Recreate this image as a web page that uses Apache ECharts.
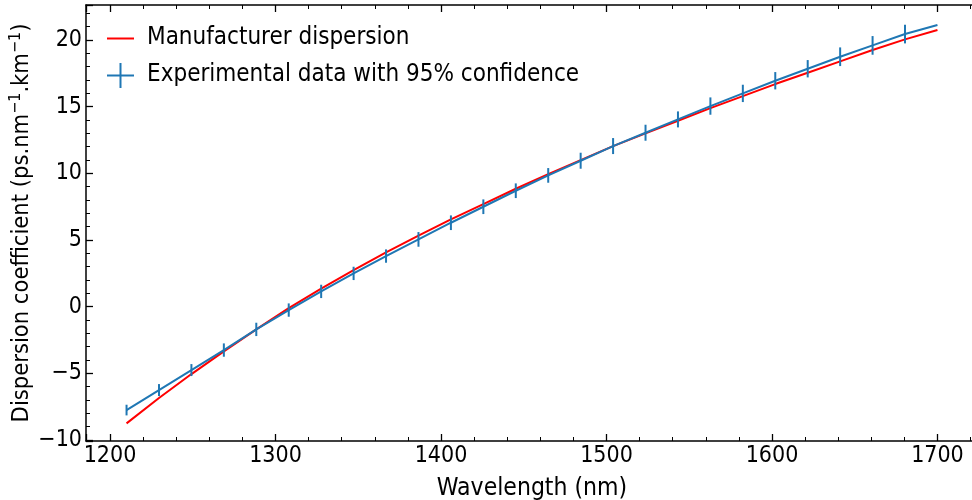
<!DOCTYPE html>
<html>
<head>
<meta charset="utf-8">
<script src="https://cdn.jsdelivr.net/npm/echarts@6/dist/echarts.min.js"></script>
<style>html,body{margin:0;padding:0;background:#fff;}#c{width:972px;height:500px;}</style>
</head>
<body>
<div id="c"></div>
<script>
// Wavelengths (nm) of the experimental points
const wavelengths = [1210, 1229.6, 1249.2, 1268.8, 1288.4, 1308, 1327.6, 1347.2, 1366.8, 1386.4, 1406, 1425.6, 1445.2, 1464.8, 1484.4, 1504, 1523.6, 1543.2, 1562.8, 1582.4, 1602, 1621.6, 1641.2, 1660.8, 1680.4, 1700];
// Manufacturer dispersion (ps/nm/km)
const manufacturer = [-8.75, -6.85, -5.05, -3.35, -1.7, -0.1, 1.35, 2.75, 4.08, 5.33, 6.55, 7.7, 8.85, 9.95, 11.0, 12.05, 13.0, 13.95, 14.9, 15.8, 16.7, 17.55, 18.4, 19.25, 20.05, 20.76];
// Experimental dispersion (ps/nm/km)
const experimental = [-7.75, -6.25, -4.75, -3.25, -1.7, -0.25, 1.15, 2.5, 3.8, 5.05, 6.3, 7.5, 8.7, 9.85, 10.95, 12.05, 13.05, 14.05, 15.05, 16.0, 16.95, 17.85, 18.75, 19.6, 20.45, 21.13];
// 95% confidence half-width (null = no bar)
const confidence = [0.4, 0.45, 0.45, 0.5, 0.5, 0.5, 0.5, 0.5, 0.5, 0.55, 0.55, 0.55, 0.55, 0.55, 0.6, 0.6, 0.6, 0.6, 0.65, 0.65, 0.65, 0.65, 0.7, 0.7, 0.7, null];

const legendNames = ['Manufacturer dispersion', 'Experimental data with 95% confidence'];
const xTitle = 'Wavelength (nm)';
const yTitle = 'Dispersion coefficient (ps.nm{s|\u22121}.km{s|\u22121})';

const FONT = '"DejaVu Sans Condensed", "DejaVu Sans"';
const BLUE = '#1f77b4';
const RED = '#ff0000';

const redData = wavelengths.map((w, i) => [w, manufacturer[i]]);
const blueData = wavelengths.map((w, i) => [w, experimental[i]]);
const errData = [];
wavelengths.forEach((w, i) => { if (confidence[i] != null) errData.push([w, experimental[i], confidence[i]]); });

const chart = echarts.init(document.getElementById('c'), null, {renderer: 'canvas'});

const tickCommon = {inside: true, length: 7, lineStyle: {color: '#000', width: 1.3}};
const minorCommon = {show: true, splitNumber: 5, length: 4, lineStyle: {color: '#000', width: 1}};
const fmt = v => (v < 0 ? '\u2212' + Math.abs(v) : String(v));

chart.setOption({
  animation: false,
  backgroundColor: '#fff',
  textStyle: {fontFamily: FONT},
  grid: {left: 86, top: 5, width: 892, height: 436, containLabel: false, outerBoundsMode: 'none'},
  xAxis: [{
    type: 'value', position: 'bottom', min: 1185.5, max: 1724.5, splitNumber: 5,
    axisLine: {show: true, onZero: false, lineStyle: {color: '#000', width: 1.5}},
    axisTick: tickCommon, minorTick: minorCommon,
    splitLine: {show: false},
    axisLabel: {color: '#000', fontSize: 23, fontFamily: FONT, margin: 4, showMinLabel: false, showMaxLabel: false, formatter: fmt},
    name: xTitle, nameLocation: 'middle', nameGap: 35,
    nameTextStyle: {color: '#000', fontSize: 24.5, fontFamily: FONT}
  }, {
    type: 'value', position: 'top', min: 1185.5, max: 1724.5, splitNumber: 5,
    axisLine: {show: true, onZero: false, lineStyle: {color: '#000', width: 1.5}},
    axisTick: tickCommon, minorTick: minorCommon,
    splitLine: {show: false}, axisLabel: {show: false}
  }],
  yAxis: [{
    type: 'value', position: 'left', min: -10.07, max: 22.63, splitNumber: 6,
    axisLine: {show: true, onZero: false, lineStyle: {color: '#000', width: 1.5}},
    axisTick: tickCommon, minorTick: minorCommon,
    splitLine: {show: false},
    axisLabel: {color: '#000', fontSize: 23, fontFamily: FONT, margin: 4, showMinLabel: false, showMaxLabel: false, formatter: fmt},
    name: yTitle, nameLocation: 'middle', nameGap: 50, nameRotate: 90, nameMoveOverlap: false,
    nameTextStyle: {color: '#000', fontSize: 23.5, fontFamily: FONT, lineHeight: 28,
      rich: {s: {fontSize: 16, fontFamily: FONT, color: '#000', verticalAlign: 'top', lineHeight: 28, padding: [0, 0, 0, 0]}}}
  }],
  series: [{
    name: legendNames[0], type: 'line', data: redData, xAxisIndex: 0, yAxisIndex: 0,
    showSymbol: false, symbol: 'none', lineStyle: {color: RED, width: 2}, z: 3
  }, {
    name: legendNames[1], type: 'line', data: blueData, xAxisIndex: 0, yAxisIndex: 0,
    showSymbol: false, symbol: 'none', lineStyle: {color: BLUE, width: 2}, z: 4
  }, {
    name: 'err', type: 'custom', data: errData, xAxisIndex: 0, yAxisIndex: 0, z: 5,
    renderItem: function (params, api) {
      const x = api.value(0), y = api.value(1), e = api.value(2);
      const p1 = api.coord([x, y - e]);
      const p2 = api.coord([x, y + e]);
      return {type: 'line', shape: {x1: p1[0], y1: p1[1], x2: p2[0], y2: p2[1]},
        style: {stroke: BLUE, lineWidth: 2}};
    }
  }],
  graphic: [
    {type: 'line', shape: {x1: 107, y1: 38.5, x2: 134, y2: 38.5}, style: {stroke: RED, lineWidth: 2}},
    {type: 'text', left: 147, top: 25.5, style: {text: legendNames[0], font: '24px "DejaVu Sans Condensed", "DejaVu Sans"', fill: '#000'}},
    {type: 'line', shape: {x1: 107, y1: 75.5, x2: 134, y2: 75.5}, style: {stroke: BLUE, lineWidth: 2}},
    {type: 'line', shape: {x1: 120.5, y1: 63, x2: 120.5, y2: 88}, style: {stroke: BLUE, lineWidth: 2}},
    {type: 'text', left: 147, top: 62.5, style: {text: legendNames[1], font: '24px "DejaVu Sans Condensed", "DejaVu Sans"', fill: '#000'}}
  ]
});
</script>
</body>
</html>
